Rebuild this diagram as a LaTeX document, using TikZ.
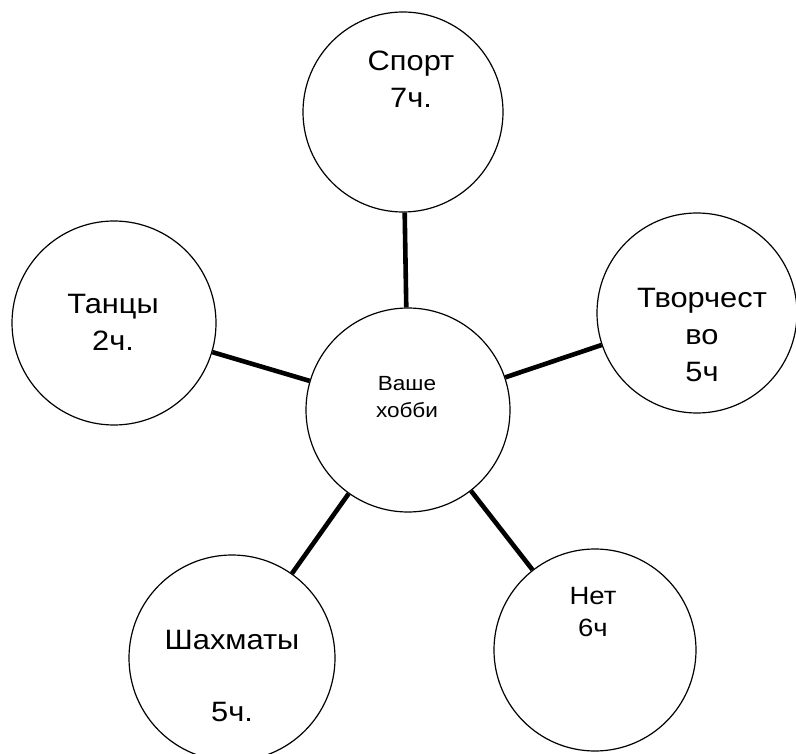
\documentclass[tikz,border=0pt]{standalone}
\usepackage{fontspec}
\setmainfont{Liberation Sans}
\newfontfamily\scanfont[FakeStretch=1.1]{Liberation Sans}
\begin{document}
\begin{tikzpicture}[x=1pt,y=-1pt,
  bubble/.style={circle, draw, line width=1.2pt, inner sep=0pt},
  link/.style={line width=4.6pt},
  bigtext/.style={font=\scanfont\fontsize{28}{37}\selectfont, align=center, inner sep=0pt},
  midtext/.style={font=\scanfont\fontsize{25}{32}\selectfont, align=center, inner sep=0pt},
  smalltext/.style={font=\scanfont\fontsize{20.5}{27}\selectfont, align=center, inner sep=0pt}]
\useasboundingbox (0,0) rectangle (796,754);
\fill[white] (0,0) rectangle (796,754);
% circles
\node[bubble, minimum size=204pt] (hub) at (408,410) {};
\node[bubble, minimum size=200pt] (sport) at (403,112) {};
\node[bubble, minimum size=204pt] (dance) at (114,323) {};
\node[bubble, minimum size=200pt] (art) at (697,313) {};
\node[bubble, minimum size=206pt] (chess) at (232,658) {};
\node[bubble, minimum size=202pt] (none) at (595,650) {};
% connectors
\draw[link] (hub) -- (sport);
\draw[link] (hub) -- (dance);
\draw[link] (hub) -- (art);
\draw[link] (hub) -- (chess);
\draw[link] (hub) -- (none);
% texts
\node[smalltext] (thub) at (407,397.5) {Ваше\\хобби};
\node[bigtext] (tsport) at (411,79) {Спорт\\7ч.};
\node[bigtext] (tdance) at (113,322) {Танцы\\2ч.};
\node[bigtext] (tart) at (702,335) {Творчест\\во\\5ч};
\node[bigtext] (tchess) at (232,676) {Шахматы\\[35pt]5ч.};
\node[midtext] (tnone) at (593,612) {Нет\\6ч};
\end{tikzpicture}
\end{document}
